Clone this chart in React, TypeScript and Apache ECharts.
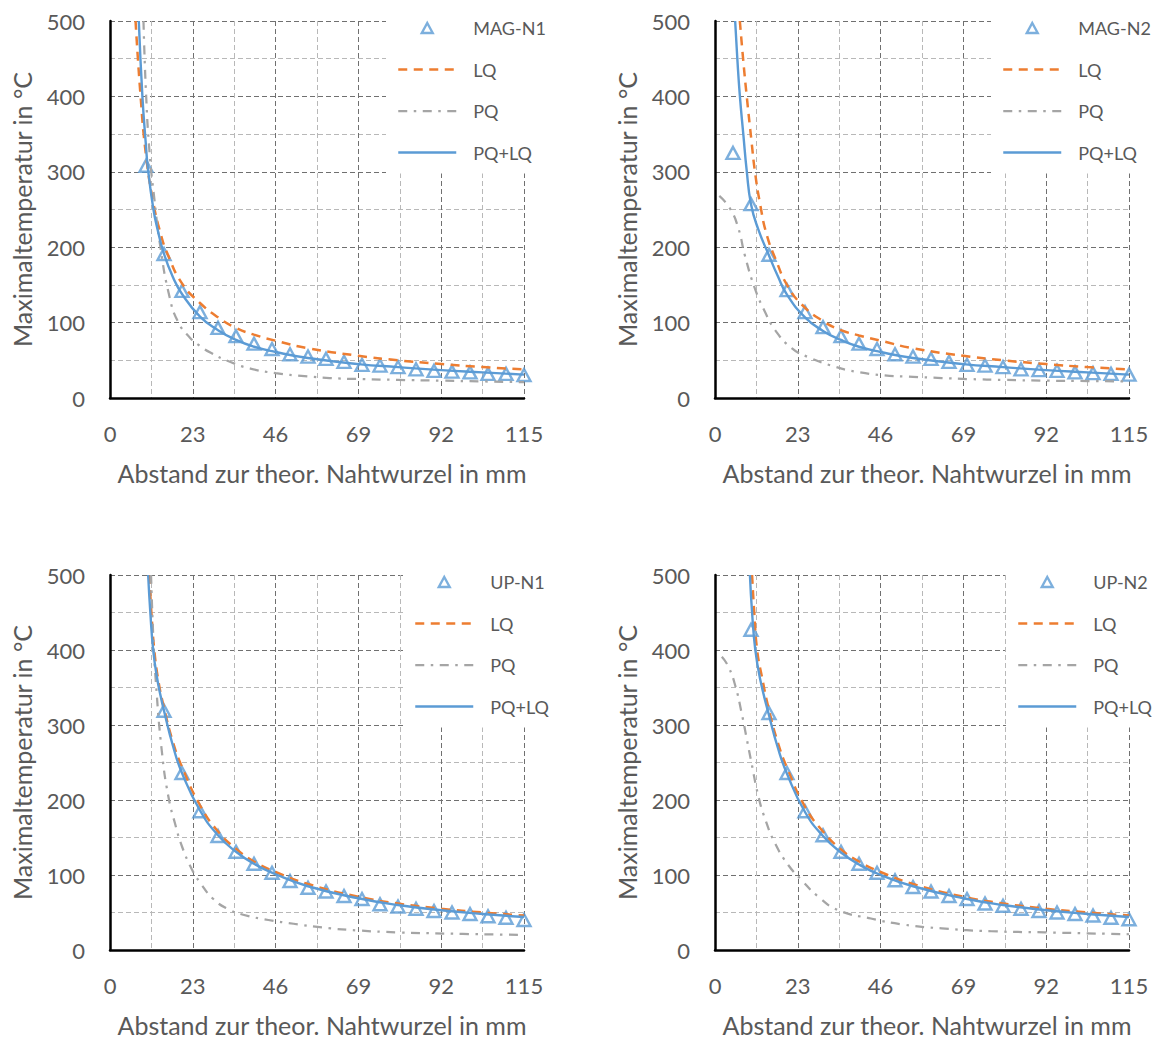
import React, { useEffect, useRef } from "react";
import * as echarts from "echarts";

// ---------- DATA ----------
const xTicks = [0, 23, 46, 69, 92, 115];
const yTicks = [0, 100, 200, 300, 400, 500];

// MAG-N1
const magN1X = [10, 15, 20, 25, 30, 35, 40, 45, 50, 55, 60, 65, 70, 75, 80, 85, 90, 95, 100, 105, 110, 115];
const magN1T = [308, 191, 142, 114, 93, 82, 72, 65, 58, 55, 52, 48, 44, 43, 41, 38, 36, 35, 34, 32, 32, 30.5];
const magN1LQ = [[7.1, 500], [8.5, 400], [10, 322], [12, 260], [14, 219], [16, 191], [20, 152], [25, 126], [30, 107], [35, 93], [40, 84], [46, 76], [55, 66], [69, 56], [80, 50], [92, 45], [103.5, 41], [115, 38]];
const magN1PQ = [[9.3, 500], [10, 405], [11, 325], [12.3, 265], [14, 200], [16.5, 135], [18.9, 101], [22.2, 80], [25, 69], [28, 60], [33.3, 48], [39, 39], [46, 33], [54, 29], [61, 26.5], [70, 25], [80, 24], [92, 23], [103.5, 22], [115, 21]];
const magN1PQLQ = [[8.0, 500], [9.0, 400], [9.9, 340], [10.5, 306], [12, 252], [13.2, 224], [15, 191], [17.5, 160], [20, 138], [25, 108], [30, 90], [35, 77], [40, 68], [46, 61], [55, 53], [69, 45], [80, 41], [92, 37], [103.5, 34], [115, 31]];

// MAG-N2
const magN2X = [5, 10, 15, 20, 25, 30, 35, 40, 45, 50, 55, 60, 65, 70, 75, 80, 85, 90, 95, 100, 105, 110, 115];
const magN2T = [325, 257, 190, 143, 114, 94, 82, 72, 65, 58, 55, 52, 48, 44, 43, 41, 38, 37, 36, 34, 33, 32, 31];
const magN2LQ = [[6.9, 500], [7.9, 445], [8.8, 401], [10.2, 338], [11.1, 300], [12.5, 258], [14.4, 216], [17.1, 181], [20, 150], [24.1, 124], [30, 102], [35, 90], [40, 83], [46, 76], [55, 66], [69, 56], [80, 50], [92, 45], [103.5, 41], [115, 38]];
const magN2PQ = [[1.2, 268], [4.2, 251], [6.5, 225], [8.3, 189], [11.1, 145], [13.9, 114], [16.7, 90], [21.3, 66], [26, 54], [33, 42], [39, 35], [47, 30], [55, 28], [63, 26.5], [71, 25], [80, 24], [92, 23], [103.5, 22.5], [115, 22]];
const magN2PQLQ = [[5.6, 500], [6.2, 450], [6.9, 401], [7.9, 348], [8.8, 302], [10, 257], [12, 224], [15, 189], [17.5, 161], [20, 137], [25, 107], [30, 89], [35, 77], [40, 68], [46, 61], [55, 53], [69, 45], [80, 41], [92, 37], [103.5, 34], [115, 31]];

// UP-N1
const upN1X = [15, 20, 25, 30, 35, 40, 45, 50, 55, 60, 65, 70, 75, 80, 85, 90, 95, 100, 105, 110, 115];
const upN1T = [319, 236, 185, 152, 131, 115, 103, 92, 83, 78, 72, 68, 61, 58, 55, 52, 50, 48, 45, 43, 40];
const upN1LQ = [[10.9, 500], [11.5, 450], [12.3, 400], [13.4, 360], [15, 323], [17.5, 277], [20, 244], [25, 193], [30, 158], [35, 135], [40, 118], [46, 104], [55, 88], [69, 71], [80, 62], [92, 55], [103.5, 50], [115, 46]];
const upN1PQ = [[11.4, 500], [12, 420], [12.7, 360], [14.4, 265], [16.2, 205], [18.1, 168], [20, 138], [22.7, 108], [25, 90], [28.7, 68], [33, 54], [37, 47], [44, 40], [51, 35], [59, 30], [69, 26], [80, 23.5], [98, 21.5], [115, 20]];
const upN1PQLQ = [[10.6, 500], [11.2, 450], [12, 400], [13, 365], [14, 340], [15, 319], [17.5, 272], [20, 236], [25, 186], [30, 153], [35, 131], [40, 115], [46, 101], [55, 85], [69, 69], [80, 60], [92, 53], [103.5, 48], [115, 44]];

// UP-N2
const upN2X = [10, 15, 20, 25, 30, 35, 40, 45, 50, 55, 60, 65, 70, 75, 80, 85, 90, 95, 100, 105, 110, 115];
const upN2T = [427, 316, 236, 185, 153, 131, 115, 103, 93, 84, 78, 72, 68, 62, 59, 55, 52, 50, 48, 46, 43, 41];
const upN2LQ = [[10.3, 500], [10.9, 450], [11.7, 400], [13, 365], [15, 320], [17.5, 276], [20, 243], [25, 191], [30, 158], [35, 134], [40, 118], [46, 104], [55, 88], [69, 71], [80, 62], [92, 55], [103.5, 50], [115, 46]];
const upN2PQ = [[1.9, 391], [3.7, 378], [5.6, 353], [7.4, 316], [8.8, 282], [10.2, 248], [12, 206], [13.9, 175], [16.7, 142], [20.4, 113], [24.1, 93], [28.7, 71], [34.3, 53], [43.3, 42], [52.2, 34], [63, 28.8], [76.8, 25], [91.6, 23.5], [115, 21]];
const upN2PQLQ = [[9.7, 500], [10.3, 450], [11.2, 400], [12.5, 362], [15, 313], [17.5, 269], [20, 235], [25, 184], [30, 152], [35, 130], [40, 114], [46, 100], [55, 85], [69, 69], [80, 60], [92, 53], [103.5, 48], [115, 44]];

const seriesNames = ["LQ", "PQ", "PQ+LQ"];
const xName = "Abstand zur theor. Nahtwurzel in mm";
const yName = "Maximaltemperatur in °C";

const panels = [
  { label: "MAG-N1", mx: magN1X, my: magN1T, lq: magN1LQ, pq: magN1PQ, pqlq: magN1PQLQ },
  { label: "MAG-N2", mx: magN2X, my: magN2T, lq: magN2LQ, pq: magN2PQ, pqlq: magN2PQLQ },
  { label: "UP-N1", mx: upN1X, my: upN1T, lq: upN1LQ, pq: upN1PQ, pqlq: upN1PQLQ },
  { label: "UP-N2", mx: upN2X, my: upN2T, lq: upN2LQ, pq: upN2PQ, pqlq: upN2PQLQ },
];

// ---------- LAYOUT / STYLE ----------
const layout = [
  { left: 110, top: 21, height: 377, legendLeft: 386, legendTop: 0 },
  { left: 715, top: 21, height: 377, legendLeft: 991, legendTop: 0 },
  { left: 110, top: 575, height: 376, legendLeft: 403, legendTop: 554 },
  { left: 715, top: 575, height: 376, legendLeft: 1006, legendTop: 554 },
];
const PLOT_W = 414;
const FONT = "Lato";
const TXT = "#595959";
const BLUE = "#5B9BD5";
const ORANGE = "#ED7D31";
const GRAY = "#A5A5A5";
const TRI_ICON = "path://M6,0 L12,11 L0,11 Z";

export default function App() {
  const ref = useRef<HTMLDivElement>(null);

  useEffect(() => {
    if (!ref.current) return;
    const chart = echarts.init(ref.current, undefined, { renderer: "svg" });

    const grid: any[] = [];
    const xAxis: any[] = [];
    const yAxis: any[] = [];
    const series: any[] = [];
    const legend: any[] = [];

    const lineStyles: any = {
      LQ: { color: ORANGE, width: 2.5, type: [9, 6.5] },
      PQ: { color: GRAY, width: 2.25, type: [9, 6.5, 2.5, 6.5] },
      "PQ+LQ": { color: BLUE, width: 2.4, type: "solid" },
    };

    panels.forEach((p, i) => {
      const L = layout[i];
      grid.push({ left: L.left, top: L.top, width: PLOT_W, height: L.height, containLabel: false });
      const common = {
        gridIndex: i,
        type: "value",
        axisTick: { show: false },
        axisLine: { show: true, onZero: false, lineStyle: { color: "#000", width: 2.5 } },
        splitLine: { show: true, lineStyle: { color: "#707070", width: 1, type: [5, 3] } },
        minorTick: { show: false, splitNumber: 2 },
        minorSplitLine: { show: true, lineStyle: { color: "#b8b8b8", width: 1, type: [5, 3] } },
        nameLocation: "middle",
      };
      xAxis.push({
        ...common,
        min: xTicks[0],
        max: xTicks[xTicks.length - 1],
        interval: xTicks[1] - xTicks[0],
        name: xName,
        nameGap: 62,
        nameTextStyle: { color: TXT, fontSize: 25, fontFamily: FONT, padding: [0, 0, 0, 10] },
        axisLabel: { color: TXT, fontSize: 22, fontFamily: FONT, margin: 24 },
      });
      yAxis.push({
        ...common,
        min: yTicks[0],
        max: yTicks[yTicks.length - 1],
        interval: yTicks[1] - yTicks[0],
        name: yName,
        nameGap: 76,
        nameTextStyle: { color: TXT, fontSize: 25, fontFamily: FONT },
        axisLabel: { color: TXT, fontSize: 22, fontFamily: FONT, margin: 25 },
      });

      series.push({
        name: p.label,
        type: "scatter",
        xAxisIndex: i,
        yAxisIndex: i,
        symbol: "triangle",
        symbolSize: [13, 12],
        itemStyle: { color: "rgba(255,255,255,0)", borderColor: BLUE, borderWidth: 2.4 },
        data: p.mx.map((x, k) => [x, p.my[k]]),
        z: 3,
      });
      const curves = [p.lq, p.pq, p.pqlq];
      seriesNames.forEach((nm, k) => {
        series.push({
          name: nm,
          type: "line",
          xAxisIndex: i,
          yAxisIndex: i,
          data: curves[k],
          showSymbol: false,
          symbol: "none",
          smooth: 0.5,
          lineStyle: lineStyles[nm],
          itemStyle: { color: lineStyles[nm].color },
          z: 4 + k,
        });
      });

      legend.push({
        data: [
          {
            name: p.label,
            icon: TRI_ICON,
            itemStyle: { color: "rgba(255,255,255,0)", borderColor: BLUE, borderWidth: 2.4 },
          },
          ...seriesNames.map((nm) => ({
            name: nm,
            itemStyle: { color: "rgba(0,0,0,0)", borderWidth: 0, opacity: 0 },
            lineStyle: { ...lineStyles[nm] },
          })),
        ],
        orient: "vertical",
        left: L.legendLeft,
        top: L.legendTop,
        padding: [19, 14, 12, 11],
        backgroundColor: "#fff",
        itemWidth: 58,
        itemHeight: 10,
        itemGap: 23.5,
        symbolKeepAspect: true,
        selectedMode: false,
        textStyle: { color: TXT, fontSize: 18, fontFamily: FONT, padding: [0, 0, 0, 12] },
        z: 10,
      });
    });

    chart.setOption({
      animation: false,
      backgroundColor: "#fff",
      textStyle: { fontFamily: FONT },
      grid,
      xAxis,
      yAxis,
      legend,
      series,
    });
    return () => chart.dispose();
  }, []);

  return (
    <div
      ref={ref}
      style={{ position: "fixed", left: 0, top: 0, width: 1158, height: 1038, background: "#fff" }}
    />
  );
}
